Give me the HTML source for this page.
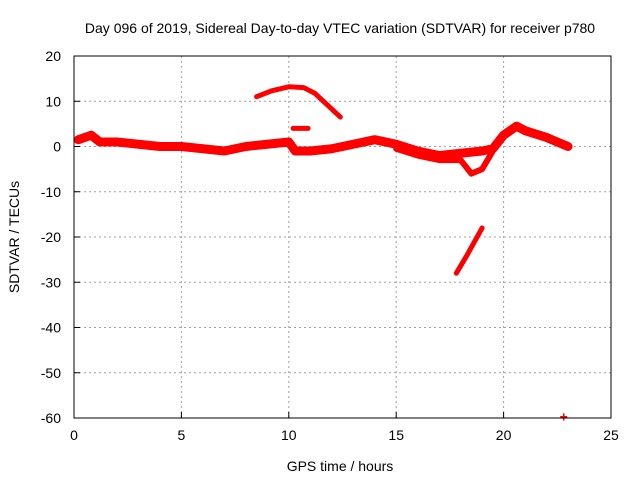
<!DOCTYPE html>
<html><head><meta charset="utf-8"><style>
body{margin:0;background:#fff;}
svg{display:block;font-family:"Liberation Sans",sans-serif;}
</style></head><body>
<svg id="chart" width="640" height="480">
<text x="340" y="33" font-size="14" text-anchor="middle">Day 096 of 2019, Sidereal Day-to-day VTEC variation (SDTVAR) for receiver p780</text>
<text x="340" y="471" font-size="14" text-anchor="middle">GPS time / hours</text>
<text transform="translate(19,237) rotate(-90)" font-size="14" text-anchor="middle">SDTVAR / TECUs</text>
<g id="grid"></g><g id="ticks"></g><g id="marks"></g>
<rect x="74" y="56" width="537" height="362" fill="none" stroke="#000" stroke-width="1"/>
</svg>
<script>
const xTicks=[0,5,10,15,20,25];
const yTicks=[20,10,0,-10,-20,-30,-40,-50,-60];
const mainX=[0.2,0.8,1.2,2,3,4,5,6,7,8,9,10,10.3,11,12,13,14,15,16,17,18,19,19.5,20,20.6,21,22,22.5,23];
const mainY=[1.5,2.5,1,1,0.5,0,0,-0.5,-1,0,0.5,1,-1,-1,-0.5,0.5,1.5,0.5,-1,-2,-1.5,-1,-0.5,2.5,4.5,3.5,2,1,0];
const branchX=[15,16,17,18,18.5,19,19.5];
const branchY=[-0.5,-2,-3,-3,-6,-5,-1];
const arcX=[8.5,9.2,10,10.7,11.2,12.4];
const arcY=[11,12.3,13.2,13,11.8,6.5];
const bitX=[10.2,10.9];
const bitY=[4,4];
const lowX=[17.8,18.3,19];
const lowY=[-28,-24,-18];
const ptX=[22.8];
const ptY=[-59.7];
const X0=74,X1=611,Y0=418,Y1=56;
const sx=v=>X0+(v-0)/(25-0)*(X1-X0);
const sy=v=>Y0-(v+60)/80*(Y0-Y1);
const NS="http://www.w3.org/2000/svg";
const grid=document.getElementById('grid'),ticks=document.getElementById('ticks'),marks=document.getElementById('marks');
function mk(t,a,p){const e=document.createElementNS(NS,t);for(const k in a)e.setAttribute(k,a[k]);p.appendChild(e);return e;}
xTicks.forEach(v=>{const x=sx(v);
 if(v>0&&v<25){const g=mk('line',{x1:x,x2:x,y1:Y1,y2:Y0,stroke:'#a0a0a0','stroke-dasharray':'2,3'},grid);
 
 }
 const t=mk('text',{x:x,y:Y0+22,'font-size':14,'text-anchor':'middle'},ticks);t.textContent=v;
 
 
 mk('line',{x1:x,x2:x,y1:Y0,y2:Y0-6,stroke:'#000'},ticks);});
yTicks.forEach(v=>{const y=sy(v);
 if(v<20&&v>-60){const g=mk('line',{x1:X0,x2:X1,y1:y,y2:y,stroke:'#a0a0a0','stroke-dasharray':'2,3'},grid);
 
 }
 const t=mk('text',{x:X0-13,y:y+5,'font-size':14,'text-anchor':'end'},ticks);t.textContent=v;
 
 
 mk('line',{x1:X0,x2:X0+6,y1:y,y2:y,stroke:'#000'},ticks);});
function line(xs,ys,w,name){const p=mk('polyline',{points:xs.map((x,i)=>sx(x)+','+sy(ys[i])).join(' '),fill:'none',stroke:'#f00','stroke-width':w,'stroke-linejoin':'round','stroke-linecap':'round'},marks);
 
 }
line(mainX,mainY,9,'sdtvar-main-series');
line(branchX,branchY,6,'sdtvar-lower-branch');
line(arcX,arcY,5,'sdtvar-arc-segment');
line(bitX,bitY,5,'sdtvar-short-segment');
line(lowX,lowY,5,'sdtvar-low-segment');
ptX.forEach((x,i)=>{const t=mk('text',{x:sx(x),y:sy(ptY[i])+5,'font-size':14,'text-anchor':'middle',fill:'#f00','font-weight':'bold'},marks);t.textContent='+';
 
 });
</script>
</body></html>
